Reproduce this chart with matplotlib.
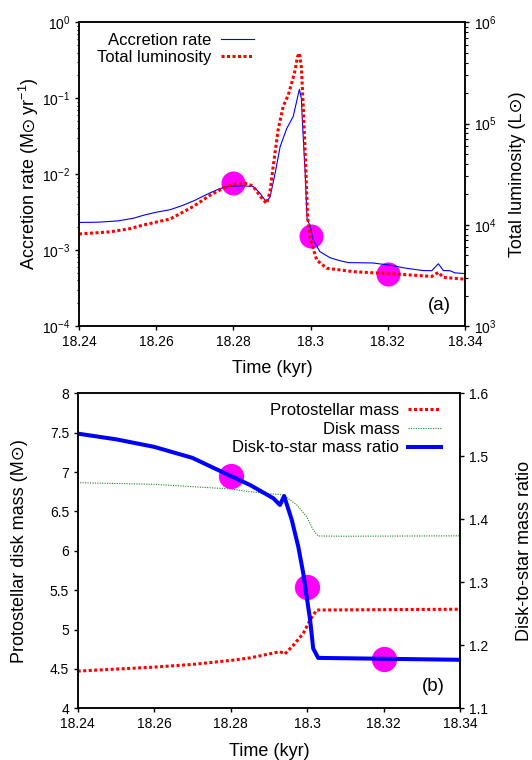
import numpy as np
import matplotlib
matplotlib.use("Agg")
import matplotlib.pyplot as plt
from matplotlib.ticker import (LogLocator, NullFormatter, FixedLocator,
                               MultipleLocator, FuncFormatter)

plt.rcParams["font.family"] = ["Liberation Sans", "DejaVu Sans"]
plt.rcParams["mathtext.fontset"] = "custom"
plt.rcParams["mathtext.rm"] = "Liberation Sans"
plt.rcParams["mathtext.it"] = "Liberation Sans:italic"
plt.rcParams["mathtext.bf"] = "Liberation Sans:bold"
plt.rcParams["mathtext.fallback"] = "stixsans"

# ---------------- panel (a): accretion rate and luminosity ----------------
t_acc = [18.2400, 18.2450, 18.2500, 18.2540, 18.2570, 18.2600, 18.2636, 18.2670,
         18.2700, 18.2740, 18.2765, 18.2790, 18.2826, 18.2852, 18.2869, 18.2880,
         18.2886, 18.2895, 18.2908, 18.2921, 18.2938, 18.2955, 18.2963, 18.2971,
         18.2976, 18.2979, 18.2986, 18.2991, 18.2998, 18.3007, 18.3024, 18.3050,
         18.3076, 18.3098, 18.3162, 18.3206, 18.3249, 18.3292, 18.3314, 18.3331,
         18.3344, 18.3361, 18.3374, 18.3400]
acc_rate = [2.31e-3, 2.33e-3, 2.42e-3, 2.62e-3, 2.90e-3, 3.15e-3, 3.40e-3, 3.90e-3,
            4.52e-3, 5.69e-3, 6.46e-3, 6.92e-3, 7.03e-3, 6.84e-3, 5.62e-3, 4.68e-3,
            4.37e-3, 5.01e-3, 1.02e-2, 2.29e-2, 3.98e-2, 5.75e-2, 8.71e-2, 1.31e-1,
            1.00e-1, 4.68e-2, 1.02e-2, 2.51e-3, 2.14e-3, 1.35e-3, 9.55e-4, 7.94e-4,
            7.24e-4, 6.84e-4, 6.76e-4, 6.31e-4, 5.75e-4, 5.37e-4, 5.35e-4, 6.61e-4,
            5.37e-4, 5.35e-4, 5.01e-4, 4.90e-4]

t_lum = [18.2400, 18.2480, 18.2530, 18.2567, 18.2636, 18.2696, 18.2739, 18.2783,
         18.2826, 18.2850, 18.2870, 18.2886, 18.2895, 18.2903, 18.2916, 18.2929,
         18.2942, 18.2951, 18.2960, 18.2966, 18.2971, 18.2976, 18.2981, 18.2988,
         18.2992, 18.3000, 18.3016, 18.3042, 18.3111, 18.3232, 18.3314, 18.3331,
         18.3344, 18.3396]
luminosity = [8110, 8510, 9120, 9950, 11400, 15140, 19500, 23990,
              26060, 24270, 19050, 16220, 21380, 37500, 87100, 147900,
              190500, 251200, 338800, 457100, 495500, 363100, 147900, 32360,
              12020, 7080, 4470, 3720, 3440, 3240, 3090, 3390,
              3020, 2910]

t_mark = [18.28, 18.30, 18.32]
acc_mark = [7.6e-3, 1.53e-3, 4.85e-4]

# ---------------- panel (b): masses and disk-to-star ratio ----------------
t_star = [18.240, 18.260, 18.270, 18.280, 18.2851, 18.2929, 18.2942, 18.2964,
          18.2990, 18.3008, 18.3025, 18.3100, 18.3400]
star_mass = [4.472, 4.523, 4.557, 4.608, 4.640, 4.719, 4.690, 4.800,
             4.952, 5.121, 5.248, 5.250, 5.258]

t_disk = [18.240, 18.260, 18.280, 18.2851, 18.2938, 18.2973, 18.2999, 18.3016,
          18.3029, 18.3100, 18.3400]
disk_mass = [6.865, 6.844, 6.785, 6.750, 6.709, 6.582, 6.433, 6.264,
             6.188, 6.185, 6.190]

t_ratio = [18.240, 18.250, 18.260, 18.270, 18.280, 18.2851, 18.2912, 18.2929,
           18.2940, 18.2960, 18.2977, 18.2990, 18.2999, 18.3008, 18.3016, 18.3029,
           18.3400]
mass_ratio = [1.536, 1.527, 1.515, 1.4975, 1.4688, 1.4544, 1.4333, 1.4227,
              1.437, 1.399, 1.3565, 1.3143, 1.277, 1.240, 1.195, 1.180,
              1.177]
ratio_mark = [1.469, 1.292, 1.179]

x_ticks = [18.24, 18.26, 18.28, 18.30, 18.32, 18.34]
x_ticklabels = ["18.24", "18.26", "18.28", "18.3", "18.32", "18.34"]

RED = "#ff0000"
BLUE = "#0000ff"
GREEN = "#1f7f1f"
MAGENTA = "#ff00ff"
red_dots = (0, (1.0, 0.8))

fig = plt.figure(figsize=(5.32, 7.6), dpi=100)
W, H = 532.0, 760.0


def style_axes(ax, twin):
    for sp in list(ax.spines.values()) + list(twin.spines.values()):
        sp.set_linewidth(1.1)
    for a in (ax, twin):
        a.tick_params(which="major", direction="out", length=3.2, width=1.0,
                      labelsize=10, pad=3)
        a.tick_params(which="minor", direction="out", length=1.8, width=0.8)
    ax.tick_params(axis="x", top=False)
    twin.tick_params(axis="x", top=False)


# ----- panel (a) -----
ax1 = fig.add_axes([79 / W, 1 - 326 / H, 386 / W, 303.7 / H])
ax1r = ax1.twinx()
style_axes(ax1, ax1r)

ax1.scatter(t_mark, acc_mark, s=300, color=MAGENTA, zorder=1, linewidths=0)
l_acc, = ax1.plot(t_acc, acc_rate, color=BLUE, lw=0.8, zorder=2)
l_lum, = ax1r.plot(t_lum, luminosity, color=RED, lw=2.2, linestyle=red_dots, zorder=2)

ax1.set_yscale("log")
ax1r.set_yscale("log")
ax1.set_ylim(1e-4, 1)
ax1r.set_ylim(1e3, 1e6)
ax1.set_xlim(18.24, 18.34)
for a in (ax1, ax1r):
    a.yaxis.set_major_locator(LogLocator(base=10, numticks=10))
    a.yaxis.set_minor_locator(LogLocator(base=10, subs=np.arange(2, 10), numticks=10))
    a.yaxis.set_minor_formatter(NullFormatter())
ax1.xaxis.set_major_locator(FixedLocator(x_ticks))
ax1.set_xticklabels(x_ticklabels)

ax1.set_xlabel("Time (kyr)", fontsize=13, labelpad=8)
ax1.set_ylabel(r"Accretion rate (M$\odot$ yr$^{-1}$)", fontsize=13, labelpad=0.5)
ax1r.set_ylabel("Total luminosity (L\u2299)", fontsize=13, labelpad=9)

ax1r.legend([l_acc, l_lum], ["Accretion rate", "Total luminosity"],
            loc="upper right", bbox_to_anchor=(254 / W, 1 - 33 / H),
            bbox_transform=fig.transFigure, frameon=False, markerfirst=False,
            fontsize=12, handlelength=2.0, handletextpad=0.55, borderpad=0,
            borderaxespad=0, labelspacing=0.12)
ax1r.text(0.933, 0.069, "(a)", transform=ax1r.transAxes, fontsize=13.5,
          ha="center", va="center")

# ----- panel (b) -----
ax2 = fig.add_axes([77.7 / W, 1 - 708.3 / H, 382.3 / W, 315 / H])
ax2r = ax2.twinx()
style_axes(ax2, ax2r)

l_star, = ax2.plot(t_star, star_mass, color=RED, lw=2.2, linestyle=red_dots, zorder=2)
l_disk, = ax2.plot(t_disk, disk_mass, color=GREEN, lw=0.8, linestyle=(0, (1, 1.2)), zorder=2)
ax2r.scatter(t_mark, ratio_mark, s=330, color=MAGENTA, zorder=1, linewidths=0)
l_ratio, = ax2r.plot(t_ratio, mass_ratio, color=BLUE, lw=2.9, zorder=2)

ax2.set_xlim(18.24, 18.34)
ax2.set_ylim(4, 8)
ax2r.set_ylim(1.1, 1.6)
ax2.yaxis.set_major_locator(MultipleLocator(0.5))
ax2r.yaxis.set_major_locator(MultipleLocator(0.1))
ax2.xaxis.set_major_locator(FixedLocator(x_ticks))
ax2.set_xticklabels(x_ticklabels)
ax2.yaxis.set_major_formatter(FuncFormatter(lambda v, p: f"{v:g}"))
ax2r.yaxis.set_major_formatter(FuncFormatter(lambda v, p: f"{v:.1f}"))

ax2.set_xlabel("Time (kyr)", fontsize=13, labelpad=8.5)
ax2.set_ylabel("Protostellar disk mass (M\u2299)", fontsize=13, labelpad=16)
ax2r.set_ylabel("Disk-to-star mass ratio", fontsize=13, labelpad=20)

ax2r.legend([l_star, l_disk, l_ratio],
            ["Protostellar mass", "Disk mass", "Disk-to-star mass ratio"],
            loc="upper right", bbox_to_anchor=(441 / W, 1 - 403 / H),
            bbox_transform=fig.transFigure, frameon=False, markerfirst=False,
            fontsize=12, handlelength=2.0, handletextpad=0.5, borderpad=0,
            borderaxespad=0, labelspacing=0.22)
ax2r.text(0.929, 0.0686, "(b)", transform=ax2r.transAxes, fontsize=13.5,
          ha="center", va="center")

fig.savefig("out.png", dpi=100)
